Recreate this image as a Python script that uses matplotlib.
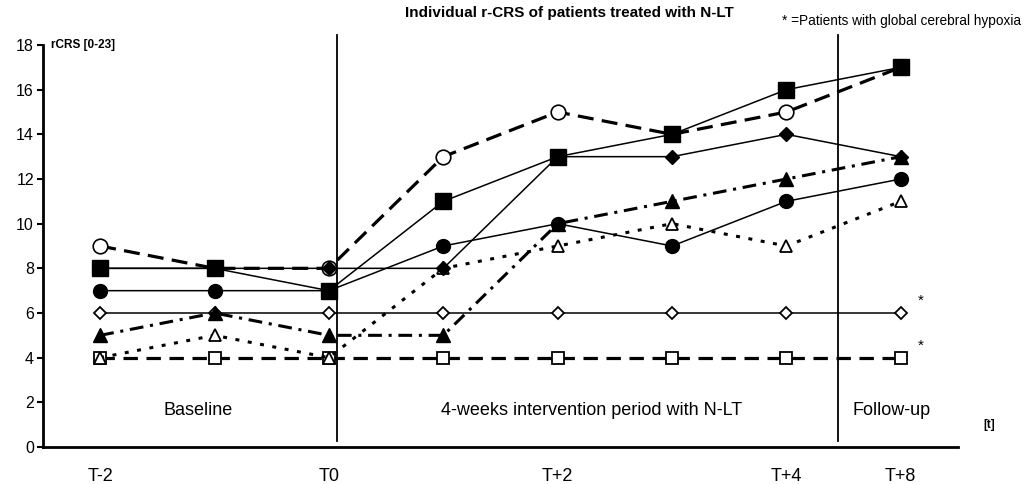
import matplotlib
matplotlib.use("Agg")
import matplotlib.pyplot as plt

plt.rcParams['font.family'] = ['Liberation Sans', 'DejaVu Sans']

positions = [0, 1, 2, 3, 4, 5, 6, 7]
tick_pos = [0, 2, 4, 6, 7]
tick_labels = ["T-2", "T0", "T+2", "T+4", "T+8"]

open_square = [4, 4, 4, 4, 4, 4, 4, 4]
open_triangle = [4, 5, 4, 8, 9, 10, 9, 11]
open_diamond = [6, 6, 6, 6, 6, 6, 6, 6]
open_circle = [9, 8, 8, 13, 15, 14, 15, 17]
filled_circle = [7, 7, 7, 9, 10, 9, 11, 12]
filled_diamond = [8, 8, 8, 8, 13, 13, 14, 13]
filled_triangle = [5, 6, 5, 5, 10, 11, 12, 13]
filled_square = [8, 8, 7, 11, 13, 14, 16, 17]

phase_bounds = [2.07, 6.45]
phase_labels = ["Baseline", "4-weeks intervention period with N-LT", "Follow-up"]
phase_label_x = [0.86, 4.3, 6.92]
hypoxia_rows = [6, 4]

fig = plt.figure(figsize=(10.36, 4.84), dpi=100)
ax = fig.add_axes([43/1036, 1-447/484, (958-43)/1036, (447-45)/484])

k = 'black'
ax.plot(positions, open_square, color=k, lw=2.3, linestyle=(0, (4.5, 2.7)),
        marker='s', ms=8, mfc='white', mec=k, mew=1.3, zorder=3)
ax.plot(positions, open_triangle, color=k, lw=2.2, linestyle=(0, (1.3, 2.8)),
        marker='^', ms=8.5, mfc='white', mec=k, mew=1.3, zorder=3.1)
ax.plot(positions, open_diamond, color=k, lw=1.1, linestyle='-',
        marker='D', ms=6.5, mfc='white', mec=k, mew=1.3, zorder=3.2)
ax.plot(positions, open_circle, color=k, lw=2.3, linestyle=(0, (5, 2.6)),
        marker='o', ms=10.5, mfc='white', mec=k, mew=1.2, zorder=3.3)
ax.plot(positions, filled_circle, color=k, lw=1.1, linestyle='-',
        marker='o', ms=10, mfc=k, mec=k, zorder=3.4)
ax.plot(positions, filled_diamond, color=k, lw=1.1, linestyle='-',
        marker='D', ms=7, mfc=k, mec=k, zorder=3.5)
ax.plot(positions, filled_triangle, color=k, lw=2.2, linestyle=(0, (4.5, 2.2, 1.0, 2.2)),
        marker='^', ms=10, mfc=k, mec=k, zorder=3.6)
ax.plot(positions, filled_square, color=k, lw=1.1, linestyle='-',
        marker='s', ms=12, mfc=k, mec=k, zorder=3.7)

for xb in phase_bounds:
    ax.plot([xb, xb], [0.25, 18.45], color=k, lw=1.3, clip_on=False, zorder=2)

for lab, xl in zip(phase_labels, phase_label_x):
    ax.text(xl, 1.65, lab, ha='center', va='center', fontsize=13)

for yv in hypoxia_rows:
    ax.text(7.15, yv + 0.55, "*", ha='left', va='center', fontsize=11)

ax.set_xlim(-0.5, 7.5)
ax.set_ylim(0, 18)
ax.set_yticks(range(0, 19, 2))
ax.set_xticks(tick_pos)
ax.set_xticklabels(tick_labels)
ax.tick_params(axis='x', length=0, pad=15, labelsize=13)
ax.tick_params(axis='y', length=4.5, width=1.5, direction='out', pad=2, labelsize=11.5)

for s in ['top', 'right']:
    ax.spines[s].set_visible(False)
for s in ['left', 'bottom']:
    ax.spines[s].set_linewidth(2)

ax.text(-0.43, 18, "rCRS [0-23]", fontsize=8.5, fontweight='bold', ha='left', va='center')
ax.text(7.72, 1.0, "[t]", fontsize=8.5, fontweight='bold', ha='left', va='center', clip_on=False)

fig.text(569/1036, 1-13/484, "Individual r-CRS of patients treated with N-LT",
         ha='center', va='center', fontsize=11, fontweight='bold')
fig.text(782/1036, 1-21/484, "* =Patients with global cerebral hypoxia",
         ha='left', va='center', fontsize=9.8)

fig.savefig("out.png", dpi=100)
